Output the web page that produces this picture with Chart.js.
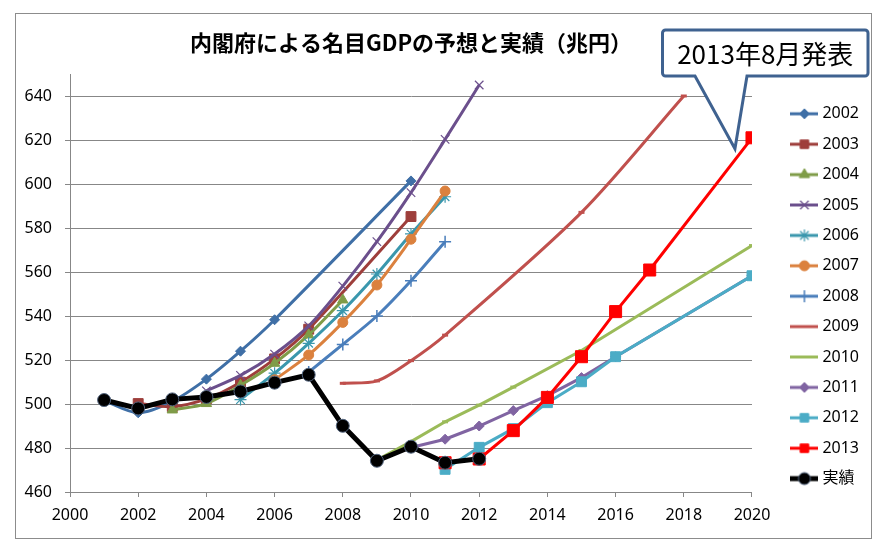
<!DOCTYPE html>
<html><head><meta charset="utf-8">
<script src="https://cdn.jsdelivr.net/npm/chart.js@4/dist/chart.umd.min.js"></script>
<style>
html,body{margin:0;padding:0;background:#fff;}
#wrap{position:absolute;left:15px;top:13px;width:855px;height:524px;border:1px solid #8c8c8c;background:#fff;}
canvas{display:block}
</style></head><body>
<div id="wrap"><canvas id="c" width="855" height="524"></canvas></div>
<script>
// ---- data ----
const years = [2001,2002,2003,2004,2005,2006,2007,2008,2009,2010,2011,2012,2013,2014,2015,2016,2017,2018,2019,2020];
const seriesNames = ['2002','2003','2004','2005','2006','2007','2008','2009','2010','2011','2012','2013','実績'];
const f2002 = [501.5,496.0,501.2,511.3,524.0,538.3,null,null,null,601.4,null,null,null,null,null,null,null,null,null,null];
const f2003 = [null,500.2,498.8,502.3,509.9,520.5,534.0,null,null,585.2,null,null,null,null,null,null,null,null,null,null];
const f2004 = [null,null,497.3,500.2,508.5,518.5,531.4,547.3,null,null,null,null,null,null,null,null,null,null,null,null];
const f2005 = [null,null,null,506.0,513.0,522.7,535.5,553.6,573.8,596.1,620.3,645.0,null,null,null,null,null,null,null,null];
const f2006 = [null,null,null,null,502.0,514.0,527.6,542.4,559.1,577.3,594.2,null,null,null,null,null,null,null,null,null];
const f2007 = [null,null,null,null,null,511.0,522.3,537.1,554.1,574.9,596.8,null,null,null,null,null,null,null,null,null];
const f2008 = [null,null,null,null,null,null,514.5,527.1,540.0,556.0,573.8,null,null,null,null,null,null,null,null,null];
const f2009 = [null,null,null,null,null,null,null,509.4,510.5,519.7,531.3,null,null,null,587.1,null,null,640.0,null,null];
const f2010 = [null,null,null,null,null,null,null,null,474.5,482.9,491.9,499.5,507.7,null,524.3,null,null,null,null,572.0];
const f2011 = [null,null,null,null,null,null,null,null,null,480.2,484.0,490.0,497.0,503.8,512.0,521.5,null,null,null,558.3];
const f2012 = [null,null,null,null,null,null,null,null,null,null,470.3,480.3,488.8,500.6,510.1,521.5,null,null,null,558.3];
const f2013 = [null,null,null,null,null,null,null,null,null,null,473.3,475.0,487.9,503.0,521.5,542.0,560.9,null,null,621.0];
const actual = [501.8,498.0,502.1,503.2,505.7,509.7,513.3,490.1,474.2,480.6,473.3,475.1,null,null,null,null,null,null,null,null];
const yTicksMin = 460, yTicksMax = 650, yStep = 20;
const xTicksMin = 2000, xTicksMax = 2020, xStep = 2;
const titleText = '内閣府による名目GDPの予想と実績（兆円）';
const calloutText = '2013年8月発表';

// ---- styles ----
const values = [f2002,f2003,f2004,f2005,f2006,f2007,f2008,f2009,f2010,f2011,f2012,f2013,actual];
const colors = ['#3F6FA6','#9E3E3B','#7F9C48','#6B4F8C','#3A97AD','#DB813E','#4A7EBB','#C0504D','#9BBB59','#8064A2','#4BACC6','#FF0000','#000000'];
const styles = ['rectRot','rect','triangle','crossRot','star','circle','cross','line','line','rectRot','rect','rect','circle'];
const radii  = [5,7,6,6,6,5,6,3,3,5,7,8.5,6.5];
const pbw    = [1,1,1,1.2,1.2,1,1.5,3,3,1,1,1,1];
const lw     = [3,3,3,3,3,3,3,3,3,3,3,3,5];
const tens   = [0.3,0.3,0.3,0.3,0.3,0.3,0.3,0.3,0,0,0,0,0];
const legendMarker = [true,true,true,true,true,true,true,false,false,true,true,true,true];

function toPts(arr){ const out=[]; arr.forEach((v,i)=>{ if(v!==null) out.push({x:years[i], y:v}); }); return out; }

const n = values.length;
const datasets = values.map((arr,i)=>({
  label: seriesNames[i],
  data: toPts(arr),
  borderColor: colors[i],
  backgroundColor: colors[i],
  borderWidth: lw[i],
  pointStyle: styles[i],
  pointRadius: radii[i],
  pointHoverRadius: radii[i],
  pointBackgroundColor: colors[i],
  pointBorderColor: i===n-1 ? '#51637d' : colors[i],
  pointBorderWidth: pbw[i],
  tension: tens[i],
  fill: false,
  order: n - i
}));

// legend icons: line + marker
const icons = datasets.map((ds,i)=>{
  const cv = document.createElement('canvas');
  cv.width = 28; cv.height = 16;
  const g = cv.getContext('2d');
  g.strokeStyle = colors[i]; g.fillStyle = colors[i];
  g.lineWidth = lw[i]; g.lineCap = 'butt';
  g.beginPath(); g.moveTo(0,8); g.lineTo(28,8); g.stroke();
  if (legendMarker[i]) {
    g.lineWidth = pbw[i];
    g.strokeStyle = i===n-1 ? '#51637d' : colors[i];
    Chart.helpers.drawPoint(g, {pointStyle: styles[i], rotation: 0, radius: Math.min(radii[i],6), borderWidth: pbw[i]}, 14, 8);
  }
  return cv;
});

const calloutPlugin = {
  id: 'callout',
  afterDraw(chart){
    const ctx = chart.ctx;
    const tipX = chart.scales.x.getPixelForValue(2019.5);
    const tipY = chart.scales.y.getPixelForValue(616);
    const L = 646.5, R = 852, T = 16, B = 62, r = 3;
    const b1 = 679, b2 = 731;
    ctx.save();
    ctx.beginPath();
    ctx.moveTo(L + r, T);
    ctx.lineTo(R - r, T); ctx.arcTo(R, T, R, T + r, r);
    ctx.lineTo(R, B - r); ctx.arcTo(R, B, R - r, B, r);
    ctx.lineTo(b2, B); ctx.lineTo(tipX, tipY); ctx.lineTo(b1, B);
    ctx.lineTo(L + r, B); ctx.arcTo(L, B, L, B - r, r);
    ctx.lineTo(L, T + r); ctx.arcTo(L, T, L + r, T, r);
    ctx.closePath();
    ctx.fillStyle = '#ffffff'; ctx.fill();
    ctx.lineWidth = 3; ctx.strokeStyle = '#3F6290'; ctx.lineJoin = 'miter'; ctx.stroke();
    ctx.fillStyle = '#000';
    ctx.font = '26px "Noto Sans CJK JP", "Noto Sans", sans-serif';
    ctx.textAlign = 'center'; ctx.textBaseline = 'middle';
    ctx.fillText(calloutText, (L + R) / 2, (T + B) / 2 + 1);
    ctx.restore();
  }
};

const tickFont = {family: '"Noto Sans", "Noto Sans CJK JP", sans-serif', size: 16};
const gridColor = '#878787';

new Chart(document.getElementById('c'), {
  type: 'line',
  data: { datasets },
  options: {
    responsive: false,
    animation: false,
    events: [],
    layout: { padding: { left: 0, right: 2, top: 0, bottom: 0 } },
    plugins: {
      title: {
        display: true, text: titleText, fullSize: false, color: '#000',
        font: {family: '"Noto Sans CJK JP", sans-serif', size: 22, weight: 'bold', lineHeight: 1.2},
        padding: {top: 15, bottom: 18.6}
      },
      legend: {
        display: true, position: 'right', align: 'start',
        title: {display: true, text: ' ', padding: {top: 63, bottom: 0}, font: {size: 12, lineHeight: 1.2}},
        labels: {
          usePointStyle: true, pointStyleWidth: 20, padding: 14.4,
          font: tickFont, color: '#000',
          generateLabels(chart){
            return chart.data.datasets.map((ds,i)=>({
              text: ds.label, datasetIndex: i, pointStyle: icons[i],
              fillStyle: colors[i], strokeStyle: colors[i], lineWidth: 0,
              hidden: !chart.isDatasetVisible(i), fontColor: '#000'
            }));
          }
        }
      },
      tooltip: { enabled: false }
    },
    scales: {
      x: {
        type: 'linear', min: xTicksMin, max: xTicksMax,
        ticks: { stepSize: xStep, callback: v => String(v), font: tickFont, color: '#000', padding: 9, maxRotation: 0, autoSkip: false },
        grid: { drawOnChartArea: false, drawTicks: true, tickLength: 5, color: gridColor },
        border: { color: gridColor, width: 1 },
        afterFit(s){ s.height = 46; }
      },
      y: {
        type: 'linear', min: yTicksMin, max: yTicksMax,
        ticks: { stepSize: yStep, includeBounds: false, font: tickFont, color: '#000', padding: 13 },
        grid: { color: gridColor, tickLength: 5 },
        border: { color: gridColor, width: 1 },
        afterFit(s){ s.width = 54; }
      },
      yR: {
        type: 'linear', position: 'right', display: true,
        grid: { display: false, drawTicks: false }, border: { display: false },
        ticks: { display: false },
        afterFit(s){ s.width = 28; }
      }
    }
  },
  plugins: [calloutPlugin]
});
</script>
</body></html>
